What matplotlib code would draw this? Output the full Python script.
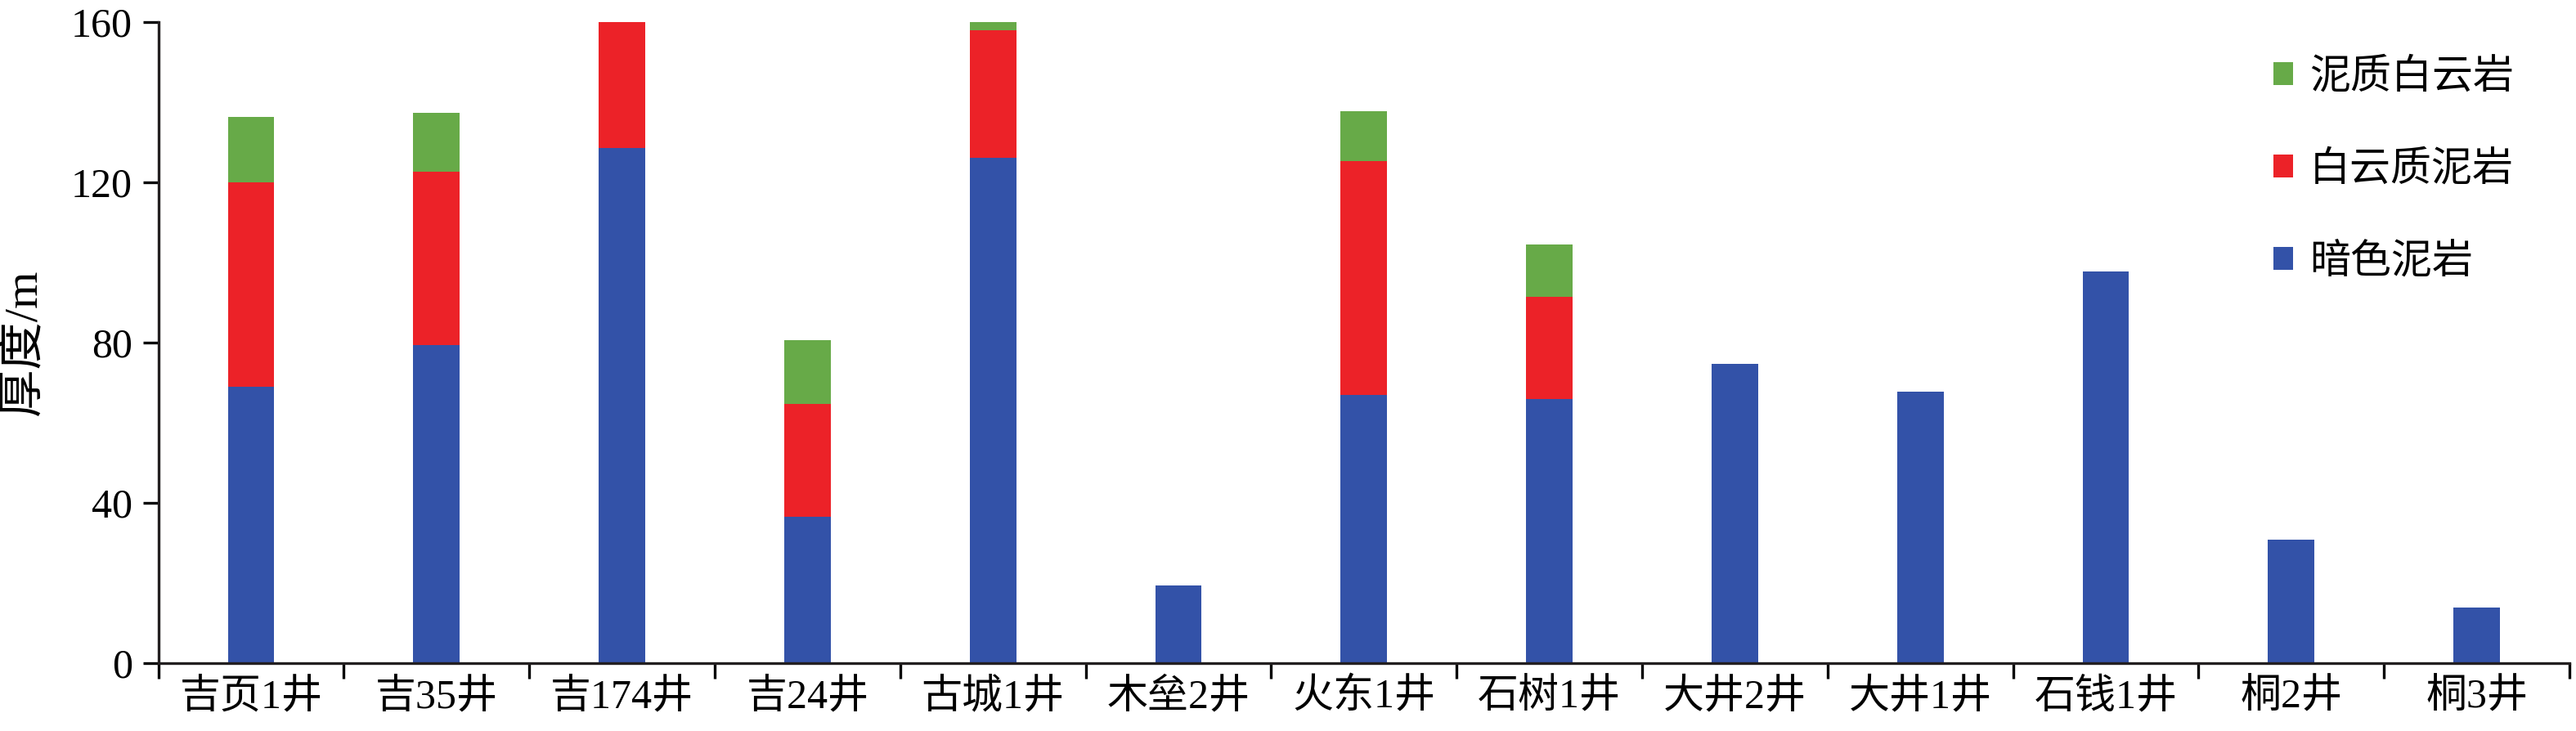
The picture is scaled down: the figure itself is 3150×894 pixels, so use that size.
import matplotlib
matplotlib.use("Agg")
import matplotlib.pyplot as plt
import numpy as np

plt.rcParams['font.family'] = ['Liberation Serif', 'Noto Sans CJK SC']

wells = ['吉页1井', '吉35井', '吉174井', '吉24井', '古城1井', '木垒2井', '火东1井',
         '石树1井', '大井2井', '大井1井', '石钱1井', '桐2井', '桐3井']
# 厚度/m
dark_mud = [69.0, 79.3, 128.5, 36.5, 126.2, 19.2, 66.9, 65.8, 74.6, 67.7, 97.7, 30.7, 13.7]
dolo_mud = [51.0, 43.3, 31.5, 28.2, 31.7, 0, 58.4, 25.5, 0, 0, 0, 0, 0]
mud_dolo = [16.4, 14.7, 0, 15.8, 2.1, 0, 12.4, 13.1, 0, 0, 0, 0, 0]

series_names = ['暗色泥岩', '白云质泥岩', '泥质白云岩']
colors = ['#3352A8', '#EC2228', '#67AA48']
yticks = [0, 40, 80, 120, 160]

fs = 36
lw = 2.4

fig = plt.figure(figsize=(31.5, 8.94), dpi=100)
ax = fig.add_axes([193.6 / 3150, 83.5 / 894, (3142 - 193.6) / 3150, (810.5 - 27) / 894])

x = np.arange(len(wells))
w = 0.25
b1 = ax.bar(x, dark_mud, width=w, color=colors[0], label=series_names[0])
b2 = ax.bar(x, dolo_mud, width=w, bottom=dark_mud, color=colors[1], label=series_names[1])
base2 = np.array(dark_mud) + np.array(dolo_mud)
b3 = ax.bar(x, mud_dolo, width=w, bottom=base2, color=colors[2], label=series_names[2])

ax.set_xlim(-0.5, len(wells) - 0.5)
ax.set_ylim(0, 160)
ax.set_yticks(yticks)
ax.set_yticklabels([str(v) for v in yticks], fontsize=fs)

# boundaries get the tick marks, centres get the labels
ax.set_xticks(np.arange(-0.5, len(wells), 1.0))
ax.set_xticklabels([])
ax.set_xticks(x, minor=True)
ax.set_xticklabels(wells, minor=True, fontsize=fs)
ax.tick_params(axis='x', which='minor', length=0, pad=14)
ax.tick_params(axis='x', which='major', direction='out', length=14, width=lw)
ax.tick_params(axis='y', direction='out', length=14, width=lw, pad=9)

for side in ['top', 'right']:
    ax.spines[side].set_visible(False)
for side in ['left', 'bottom']:
    ax.spines[side].set_linewidth(lw)
    ax.spines[side].set_color('#231f20')

ax.set_ylabel('厚度/m', fontsize=42)
ax.yaxis.set_label_coords(-0.047, 0.5)

leg = ax.legend([b3, b2, b1], [series_names[2], series_names[1], series_names[0]],
                loc='upper left', bbox_to_anchor=(2780 / 3150, 1 - 72 / 894),
                bbox_transform=fig.transFigure, frameon=False, fontsize=fs,
                handlelength=0.48, handleheight=0.48, handletextpad=0.4,
                labelspacing=1.33, borderpad=0, borderaxespad=0)

fig.savefig('out.png', dpi=100)
